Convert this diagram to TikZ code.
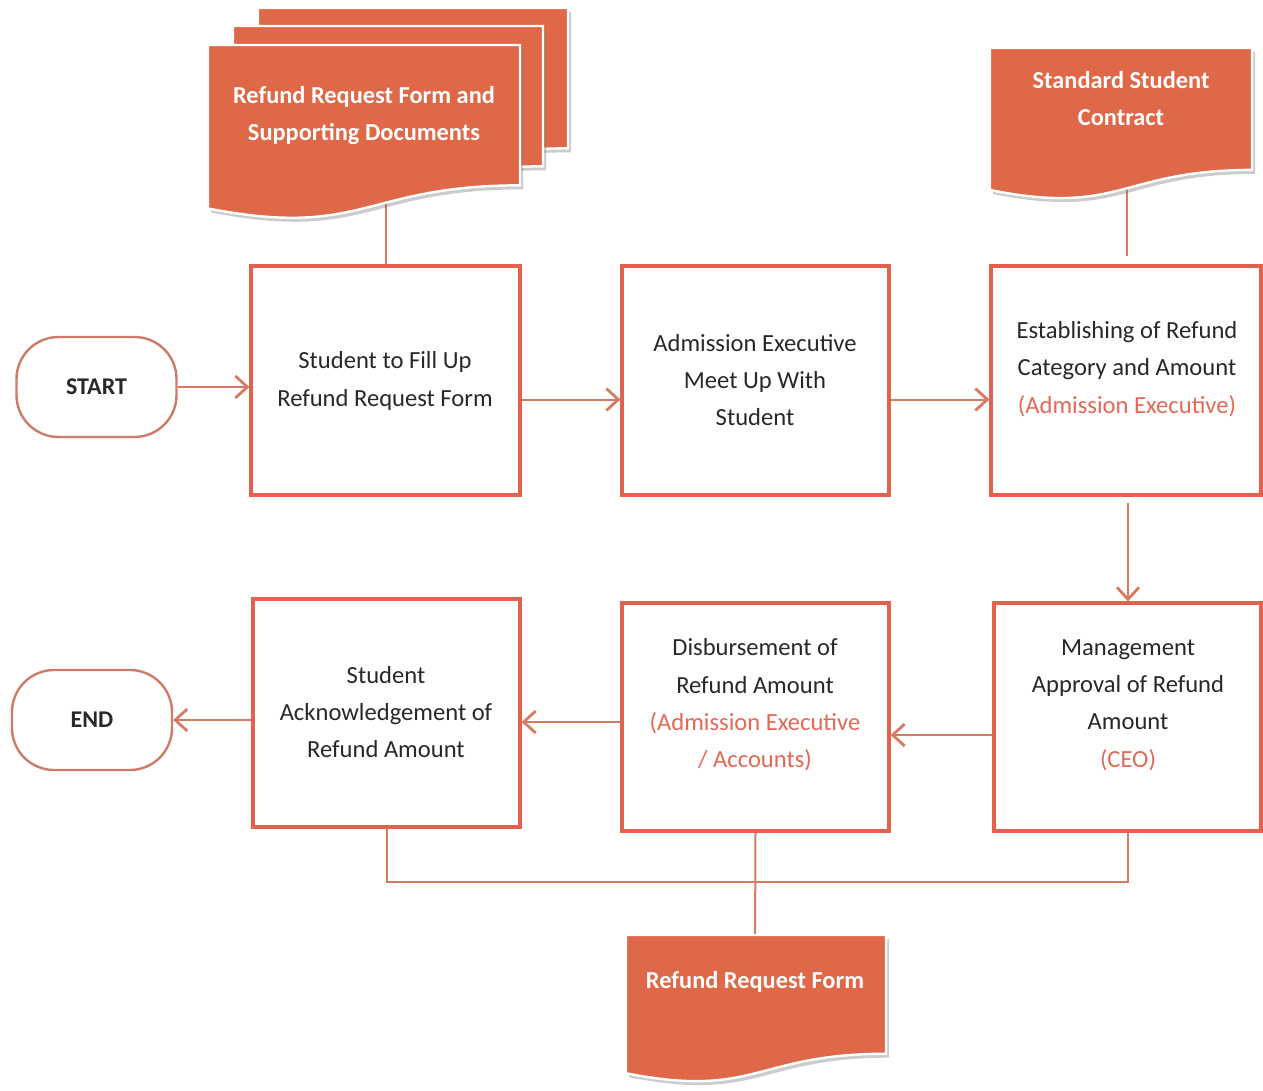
\documentclass[tikz,border=0pt]{standalone}
\usepackage{fontspec}
\setmainfont{Carlito}
\usetikzlibrary{arrows.meta,shadows,calc}
\definecolor{docfill}{RGB}{222,104,72}
\definecolor{boxred}{RGB}{226,98,78}
\definecolor{linecol}{RGB}{214,122,98}
\definecolor{redtxt}{RGB}{228,104,86}
\definecolor{termcol}{RGB}{204,124,104}
\definecolor{darktxt}{RGB}{40,40,40}

% document symbol: flat top, wavy bottom (x1, y1, x2, height)
\newcommand\docshape[5][]{%
  \pgfmathsetmacro\dxm{(#2+#4)/2}%
  \pgfmathsetmacro\dyr{#3+0.802*#5}%
  \pgfmathsetmacro\dyl{#3+0.934*#5}%
  \pgfmathsetmacro\dyc{#3+1.1075*#5}%
  \path[docstyle,#1] (#2,#3) -- (#4,#3) -- (#4,\dyr)
    .. controls (\dxm,\dyr) and (\dxm,\dyc) .. (#2,\dyl) -- cycle;
}

\tikzset{
  stepbox/.style={draw=boxred, line width=1.6pt, fill=white, inner sep=0pt},
  boxtxt/.style={align=center, text=darktxt, font=\fontsize{12.3}{18.7}\selectfont},
  doctxt/.style={align=center, text=white, font=\bfseries\fontsize{12.2}{18.5}\selectfont},
  docstyle/.style={fill=docfill, draw=white, line width=1.2pt,
    drop shadow={shadow xshift=1.5pt, shadow yshift=-2pt, opacity=0.4}},
  term/.style={draw=termcol, line width=1.2pt, rounded corners=21pt, fill=white,
    minimum width=80pt, minimum height=50pt, inner sep=0pt, text=darktxt,
    font=\bfseries\fontsize{12}{14}\selectfont},
  conn/.style={draw=linecol, line width=1pt},
  arr/.style={conn, -{Straight Barb[length=6pt,width=11pt,line width=1.4pt]}}
}

\begin{document}
\begin{tikzpicture}[x=0.5pt,y=-0.5pt]
  \fill[white] (0,0) rectangle (1263,1091);
  \useasboundingbox (0,0) rectangle (1263,1091);

  % terminators
  \node[term] (start) at (96.5,387) {START};
  \node[term] (end) at (92,720) {END};

  % process boxes, top row
  \node[stepbox, minimum width=134.5pt, minimum height=114.5pt] (b1) at (385.5,380.5) {};
  \node[stepbox, minimum width=133.5pt, minimum height=114.5pt] (b2) at (755.5,380.5) {};
  \node[stepbox, minimum width=135pt, minimum height=114.5pt] (b3) at (1126,380.5) {};
  % process boxes, bottom row
  \node[stepbox, minimum width=133.5pt, minimum height=114pt] (b4) at (1127.5,717) {};
  \node[stepbox, minimum width=133.5pt, minimum height=114pt] (b5) at (755.5,717) {};
  \node[stepbox, minimum width=133.5pt, minimum height=114pt] (b6) at (386.5,713) {};

  % box texts
  \node[boxtxt] (t1) at (385,381) {Student to Fill Up\\Refund Request Form};
  \node[boxtxt] (t2) at (755,380) {Admission Executive\\Meet Up With\\Student};
  \node[boxtxt] (t3) at (1127,369) {Establishing of Refund\\Category and Amount\\\textcolor{redtxt}{(Admission Executive)}};
  \node[boxtxt] (t4) at (1128,705) {Management\\Approval of Refund\\Amount\\\textcolor{redtxt}{(CEO)}};
  \node[boxtxt] (t5) at (755,705) {Disbursement of\\Refund Amount\\\textcolor{redtxt}{(Admission Executive}\\\textcolor{redtxt}{/ Accounts)}};
  \node[boxtxt] (t6) at (386,712) {Student\\Acknowledgement of\\Refund Amount};

  % flow arrows
  \draw[arr] (start.east) -- (start.east -| b1.west);
  \coordinate (a12) at ([yshift=-9.5pt]b1.east);
  \draw[arr] (a12) -- (a12 -| b2.west);
  \coordinate (a23) at ([yshift=-9.5pt]b2.east);
  \draw[arr] (a23) -- (a23 -| b3.west);
  \coordinate (a34) at (1128,503);
  \draw[arr] (a34) -- (a34 |- b4.north);
  \coordinate (a45) at ([yshift=-9pt]b4.west);
  \draw[arr] (a45) -- (a45 -| b5.east);
  \coordinate (a56) at ([yshift=-2.5pt]b5.west);
  \draw[arr] (a56) -- (a56 -| b6.east);
  \draw[arr] (end.east -| b6.west) -- (end.east);

  % document links
  \coordinate (d1) at (386,200);
  \draw[conn] (d1) -- (d1 |- b1.north);
  \coordinate (d2) at (1127,185);
  \draw[conn, shorten >=4pt] (d2) -- (d2 |- b3.north);
  \coordinate (bus) at (755,882);
  \draw[conn] (b6.south) |- (bus) -| (b4.south);
  \coordinate (d3) at (755,945);
  \draw[conn] (b5.south) -- (d3);

  % stacked documents
  \docshape{258}{8}{568}{175}
  \docshape{233}{26}{543}{175}
  \docshape{208}{45}{520}{175}
  \node[doctxt] (doc1) at (364,115.5) {Refund Request Form and\\Supporting Documents};

  % contract document
  \docshape{990}{48}{1252}{152}
  \node[doctxt] (doc2) at (1121,98.5) {Standard Student\\Contract};

  % form document
  \docshape{626}{935}{886}{148}
  \node[doctxt] (doc3) at (755,982) {Refund Request Form};
\end{tikzpicture}
\end{document}
